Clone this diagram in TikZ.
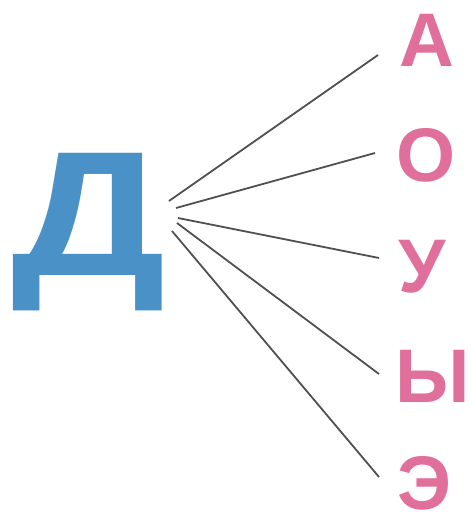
\documentclass[tikz,border=0pt]{standalone}
\usepackage{fontspec}
\setmainfont{Liberation Sans}
\definecolor{dblue}{RGB}{74,145,199}
\definecolor{vpink}{RGB}{224,112,155}
\definecolor{lgray}{RGB}{80,80,80}
\begin{document}
\begin{tikzpicture}[x=1pt,y=-1pt,
  vowel/.style={anchor=base,inner sep=0pt,text=vpink,font=\fontsize{76}{76}\selectfont\bfseries},
  link/.style={draw=lgray,line width=1.8pt}]
\useasboundingbox (0,0) rectangle (473,516);
\node[anchor=base west,inner sep=0pt,text=dblue,font=\fontsize{187}{187}\selectfont\bfseries] (d) at (11,275) {\scalebox{1.16}[0.95]{Д}};
\node[vowel] (a) at (427,67) {А};
\node[vowel] (o) at (426,181) {О};
\node[vowel] (u) at (422,292) {У};
\node[vowel] (y) at (433,402) {Ы};
\node[vowel] (e) at (425,509) {Э};
\coordinate (s1) at (169,201);
\coordinate (s2) at (176,208);
\coordinate (s3) at (178,218);
\coordinate (s4) at (177,223);
\coordinate (s5) at (172,231);
\coordinate (t1) at (378,55);
\coordinate (t2) at (375,153);
\coordinate (t3) at (379,258);
\coordinate (t4) at (379,374);
\coordinate (t5) at (379,477);
\draw[link] (s1) -- (t1);
\draw[link] (s2) -- (t2);
\draw[link] (s3) -- (t3);
\draw[link] (s4) -- (t4);
\draw[link] (s5) -- (t5);
\end{tikzpicture}
\end{document}
